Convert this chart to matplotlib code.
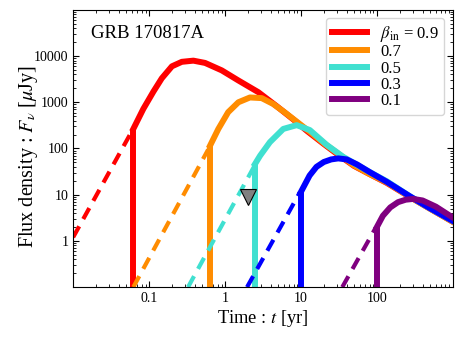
import numpy as np
import matplotlib.pyplot as plt
from matplotlib.ticker import LogLocator, NullFormatter

plt.rcParams['font.family'] = ['Liberation Serif', 'DejaVu Serif']
plt.rcParams['mathtext.fontset'] = 'stix'

# values (t in yr, F in micro-Jy)
labels = [r'$\beta_{\rm in}$ = 0.9', '0.7', '0.5', '0.3', '0.1']
colors = ['red', 'darkorange', 'turquoise', 'blue', 'purple']

t_09 = [0.062, 0.084, 0.114, 0.147, 0.20, 0.27, 0.383, 0.546, 0.905, 1.5, 2.75, 4.8, 8, 12, 20, 30, 50, 80, 135, 270, 500, 1000]
f_09 = [265, 720, 1700, 3300, 6000, 7500, 7950, 7100, 4900, 2960, 1650, 820, 420, 240, 125, 76, 42, 28, 18, 9, 5, 2.6]
t_07 = [0.635, 0.817, 1.10, 1.50, 2.13, 3.04, 4.3, 6, 9, 14, 20, 30, 50, 80, 135, 270, 500, 1000]
f_07 = [115, 265, 610, 1000, 1270, 1230, 920, 620, 370, 210, 130, 80, 43, 28, 18.5, 9.1, 5, 2.6]
t_05 = [2.48, 2.9, 3.9, 5.85, 8.8, 13.1, 21.8, 36, 55, 80, 135, 270, 500, 1000]
f_05 = [46, 70, 137, 265, 320, 250, 120, 66, 44, 31, 19.5, 9.3, 5.1, 2.7]
t_03 = [10, 13, 16, 20, 25, 31, 40, 55, 80, 135, 270, 500, 1000]
f_03 = [11.5, 26, 40, 51, 58, 61, 58, 45, 31, 19, 9.3, 5.1, 2.7]
t_01 = [100, 120, 150, 190, 240, 300, 400, 600, 1000]
f_01 = [2.0, 3.5, 5.3, 6.9, 7.8, 8.1, 7.5, 5.5, 3.2]

# dashed rising parts: (start, end)
dash_t = [[0.01, 0.062], [0.062, 0.6], [0.326, 2.4], [1.95, 9.6], [35, 96]]
dash_f = [[1.2, 270], [0.1, 95], [0.1, 40], [0.1, 11], [0.1, 1.9]]

solid_t = [t_09, t_07, t_05, t_03, t_01]
solid_f = [f_09, f_07, f_05, f_03, f_01]

ymin = 0.1
limit_t, limit_f = 2.0, 8.9

fig = plt.figure(figsize=(4.63, 3.39), dpi=100)
ax = fig.add_axes([0.158, 0.153, 0.82, 0.818])

for i in range(5):
    ax.plot(dash_t[i], dash_f[i], color=colors[i], lw=3, ls=(0, (3, 2)))
    t0 = solid_t[i][0]
    ax.plot([t0, t0], [ymin, solid_f[i][0]], color=colors[i], lw=4.3, solid_capstyle='butt')
    ax.plot(solid_t[i], solid_f[i], color=colors[i], lw=4.3, label=labels[i])

ax.plot(limit_t, limit_f, marker='v', ms=12, color='gray', mec='black', mew=0.8, ls='none')

ax.set_xscale('log')
ax.set_yscale('log')
ax.set_xlim(0.01, 1000)
ax.set_ylim(ymin, 1e5)
ax.set_xticks([0.1, 1, 10, 100])
ax.set_xticklabels(['0.1', '1', '10', '100'])
ax.set_yticks([1, 10, 100, 1000, 10000])
ax.set_yticklabels(['1', '10', '100', '1000', '10000'])
ax.xaxis.set_minor_locator(LogLocator(base=10, subs=np.arange(2, 10), numticks=20))
ax.yaxis.set_minor_locator(LogLocator(base=10, subs=np.arange(2, 10), numticks=20))
ax.xaxis.set_minor_formatter(NullFormatter())
ax.yaxis.set_minor_formatter(NullFormatter())
ax.tick_params(which='both', direction='in', top=True, right=True, labelsize=10)
ax.tick_params(which='major', length=4)
ax.tick_params(which='minor', length=2)

ax.set_xlabel(r'Time : $t$ [yr]', fontsize=13.3, labelpad=2)
ax.set_ylabel(r'Flux density : $F_\nu$ [$\mu$Jy]', fontsize=14.5)
ax.yaxis.set_label_coords(-0.087, 0.47)
ax.text(0.047, 0.945, 'GRB 170817A', transform=ax.transAxes, fontsize=13.5, va='top')

ax.legend(loc='upper right', fontsize=12, handlelength=2.1, labelspacing=0.02,
          borderpad=0.35, handletextpad=0.8)

fig.savefig('out.png', dpi=100)
